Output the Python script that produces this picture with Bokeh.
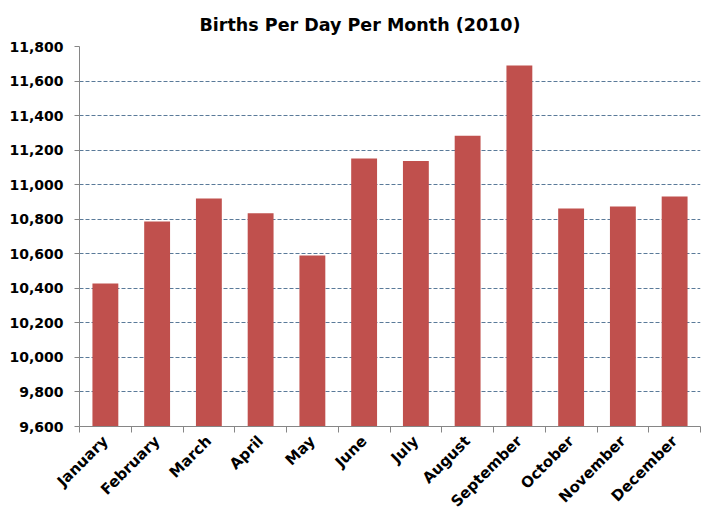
import math
from bokeh.plotting import figure
from bokeh.models import FixedTicker, NumeralTickFormatter, Range1d, ColumnDataSource
from bokeh.embed import file_html
from bokeh.resources import INLINE

months = ["January", "February", "March", "April", "May", "June", "July",
          "August", "September", "October", "November", "December"]
births = [10428, 10787, 10920, 10835, 10590, 11151, 11137, 11283, 11690, 10862, 10874, 10931]
y_ticks = list(range(9600, 11801, 200))

xs = [i + 0.5 for i in range(len(months))]
src = ColumnDataSource(dict(x=xs, top=births, m=months))

p = figure(frame_width=621, frame_height=380, output_backend="svg", toolbar_location=None,
           x_range=Range1d(0, len(months)), y_range=Range1d(9600, 11800),
           title="Births Per Day Per Month (2010)",
           min_border_left=79, min_border_right=6, min_border_top=43, min_border_bottom=10)
p.vbar(x="x", top="top", bottom=9600, width=0.5, source=src, fill_color="#C0504D", line_color=None)

p.title.align = "left"
p.title.offset = 120
p.title.standoff = 24
p.title.text_font = "DejaVu Sans"
p.title.text_font_style = "bold"
p.title.text_font_size = "17.5px"
p.title.text_color = "#000000"

p.outline_line_color = None
p.background_fill_color = "white"

# y axis
p.yaxis.ticker = FixedTicker(ticks=y_ticks)
p.yaxis.formatter = NumeralTickFormatter(format="0,0")
p.yaxis.major_label_text_font = "DejaVu Sans"
p.yaxis.major_label_text_font_style = "bold"
p.yaxis.major_label_text_font_size = "14px"
p.yaxis.major_label_text_color = "#000000"
p.yaxis.axis_line_color = "#868686"
p.yaxis.major_tick_line_color = "#868686"
p.yaxis.major_tick_out = 5
p.yaxis.major_tick_in = 0
p.yaxis.minor_tick_line_color = None
p.yaxis.major_label_standoff = 11

# x axis
p.xaxis.ticker = FixedTicker(ticks=xs, minor_ticks=list(range(len(months) + 1)))
p.xaxis.major_label_overrides = {x: m for x, m in zip(xs, months)}
p.xaxis.major_label_orientation = math.pi / 4
p.xaxis.major_label_text_font = "DejaVu Sans"
p.xaxis.major_label_text_font_style = "bold"
p.xaxis.major_label_text_font_size = "15px"
p.xaxis.major_label_text_color = "#000000"
p.xaxis.major_tick_line_color = None
p.xaxis.minor_tick_line_color = "#868686"
p.xaxis.minor_tick_out = 6
p.xaxis.minor_tick_in = 0
p.xaxis.axis_line_color = "#868686"
p.xaxis.major_label_standoff = 6

p.xgrid.grid_line_color = None
p.ygrid.ticker = FixedTicker(ticks=y_ticks[1:])
p.ygrid.grid_line_color = "#5a7a99"
p.ygrid.grid_line_dash = "4 2"
p.ygrid.grid_line_width = 1

open("out.html", "w").write(file_html(p, INLINE))
